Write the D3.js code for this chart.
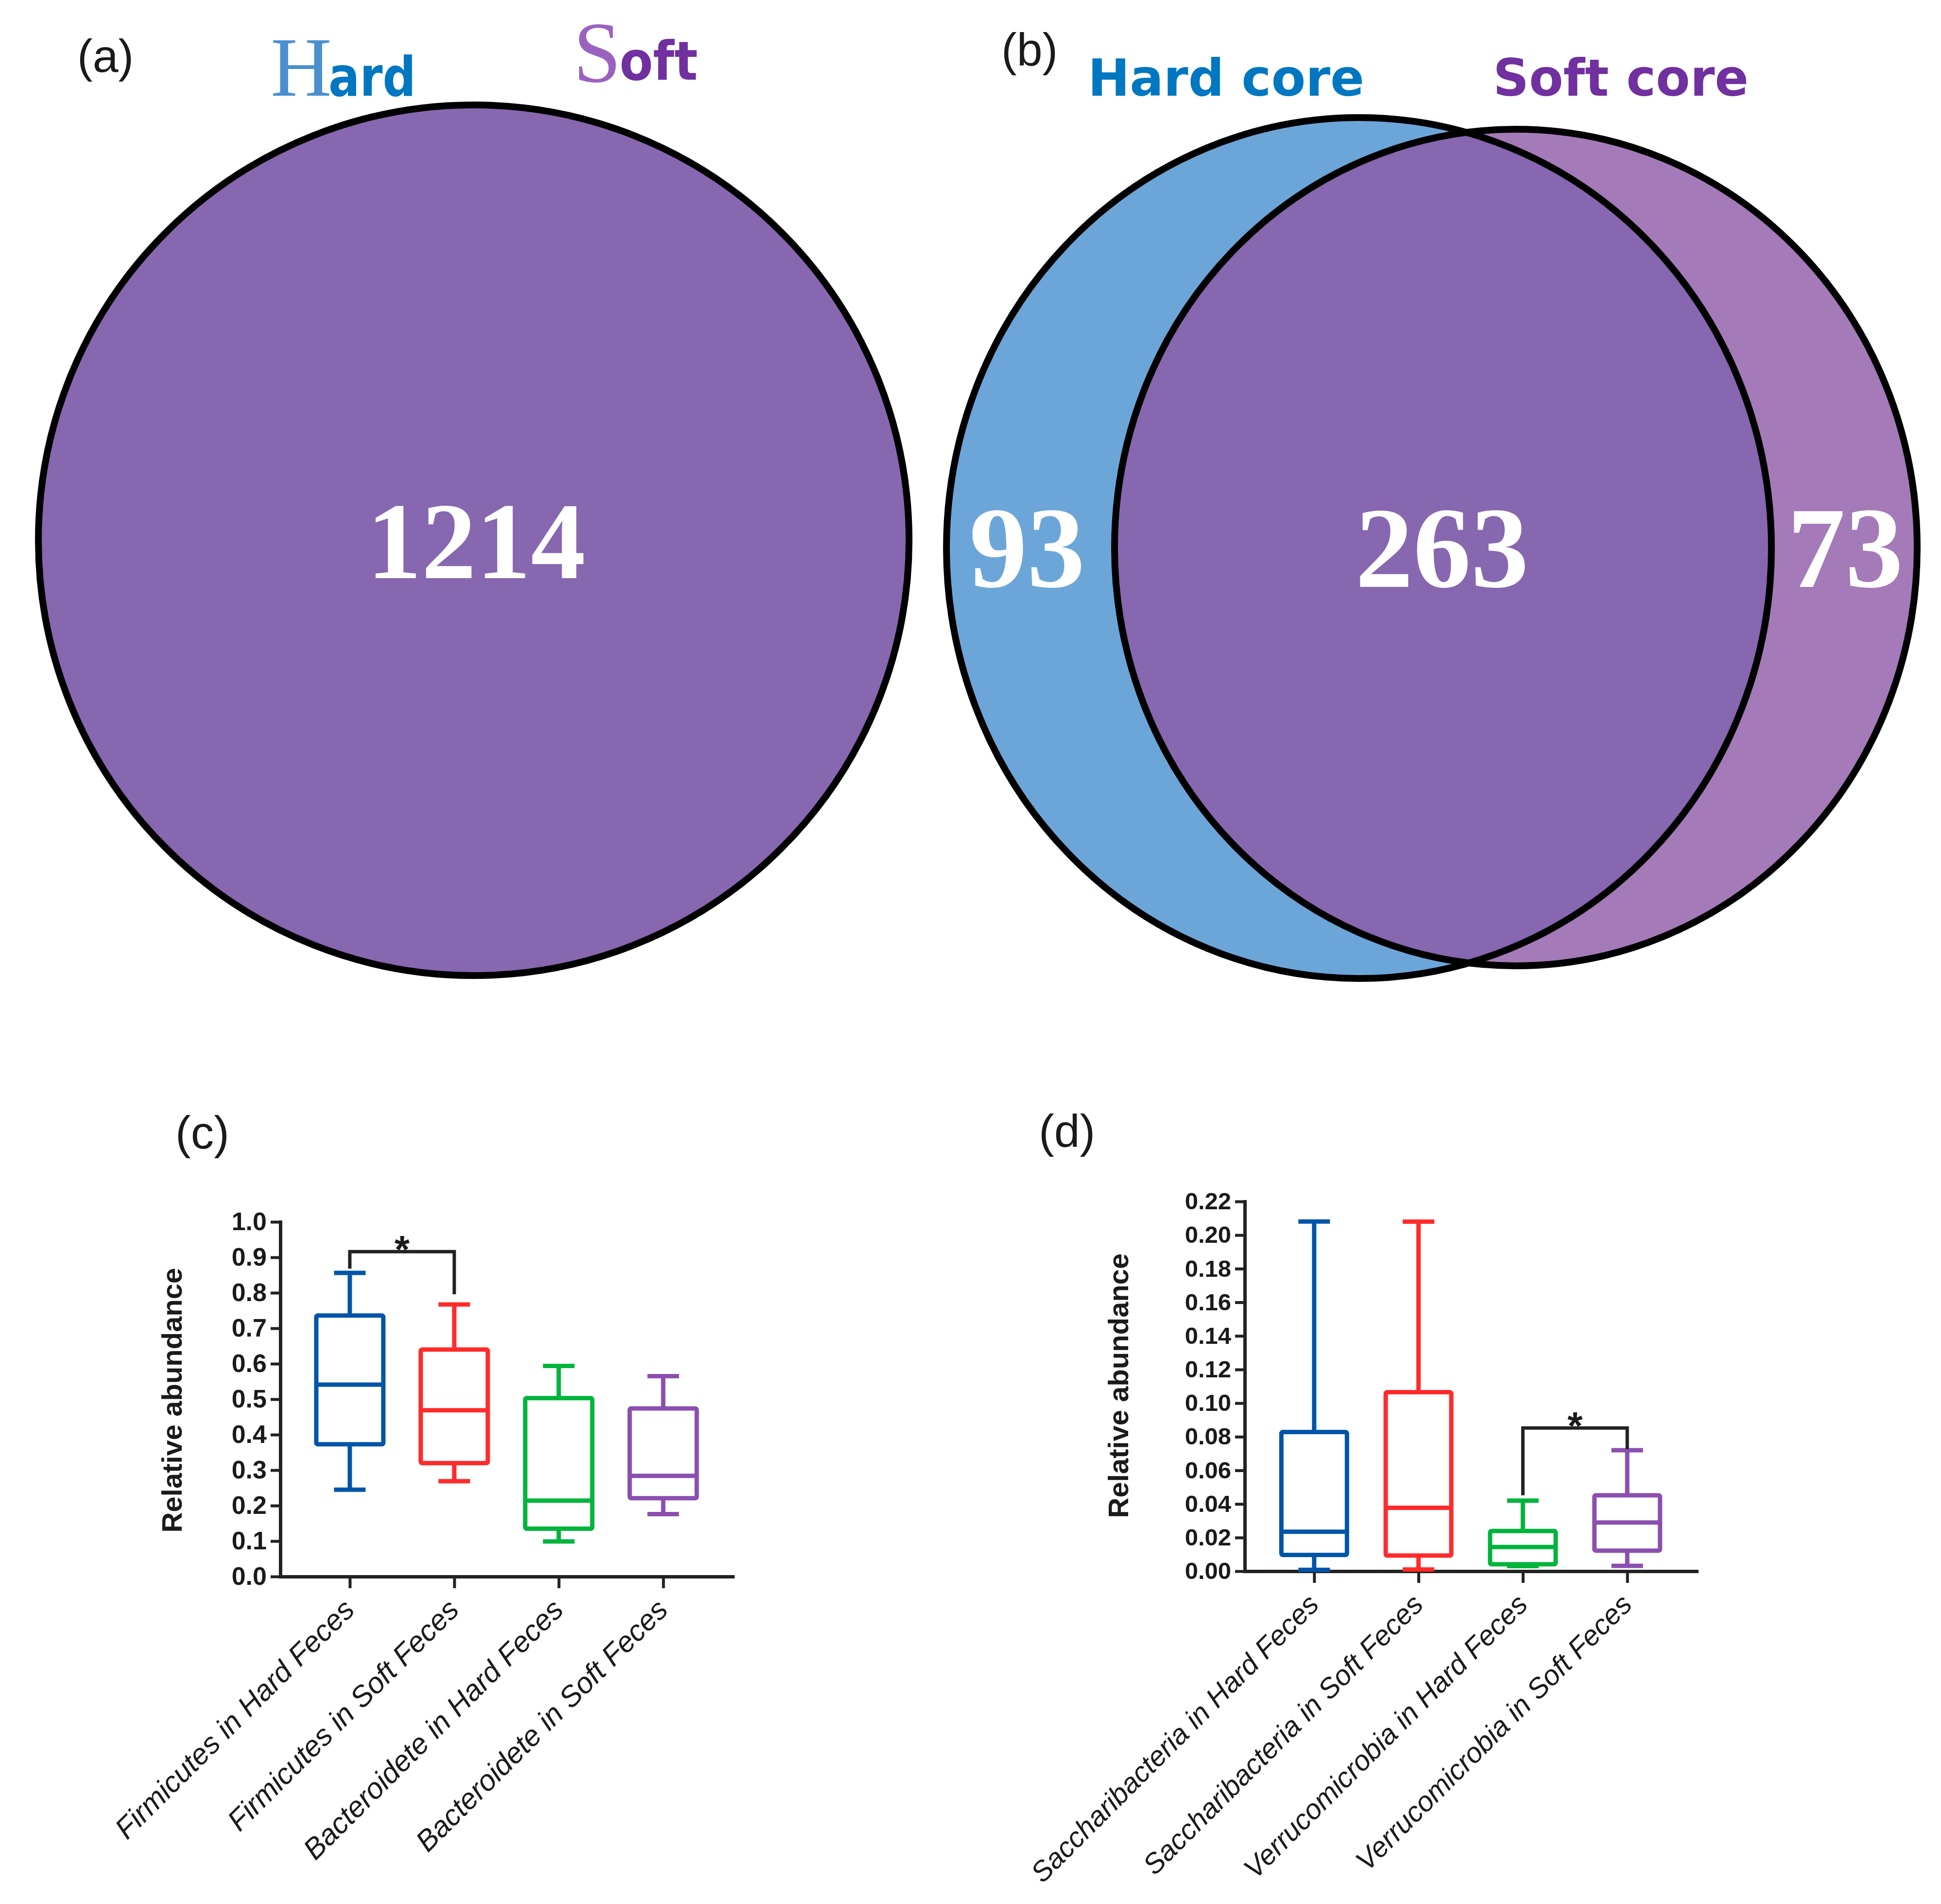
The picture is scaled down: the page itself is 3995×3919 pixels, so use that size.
<!DOCTYPE html>
<html><head><meta charset="utf-8">
<script src="https://cdn.jsdelivr.net/npm/d3@7"></script>
<style>body{margin:0;background:#fff}svg{display:block}</style>
</head><body>
<script>
// ---------------- DATA ----------------
const vennASets = ["Hard", "Soft"];
const vennACounts = [1214];                 // shared (all)
const vennBSets = ["Hard core", "Soft core"];
const vennBCounts = [93, 263, 73];          // hard only, shared, soft only

const catsC = ["Firmicutes in Hard Feces", "Firmicutes in Soft Feces",
               "Bacteroidete in Hard Feces", "Bacteroidete in Soft Feces"];
// [min, q1, median, q3, max]
const boxC = [[0.245, 0.373, 0.541, 0.736, 0.856],
              [0.269, 0.320, 0.469, 0.640, 0.767],
              [0.099, 0.135, 0.214, 0.503, 0.594],
              [0.176, 0.221, 0.284, 0.474, 0.565]];
const ticksC = [0.0, 0.1, 0.2, 0.3, 0.4, 0.5, 0.6, 0.7, 0.8, 0.9, 1.0];
// [from index, to index, bar level, left leg end, right leg end]
const sigC = [0, 1, 0.916, 0.868, 0.796];

const catsD = ["Saccharibacteria in Hard Feces", "Saccharibacteria in Soft Feces",
               "Verrucomicrobia in Hard Feces", "Verrucomicrobia in Soft Feces"];
const boxD = [[0.0008, 0.0097, 0.0235, 0.0828, 0.2081],
              [0.0010, 0.0093, 0.0377, 0.1065, 0.2080],
              [0.0030, 0.0041, 0.0144, 0.0239, 0.0420],
              [0.0032, 0.0122, 0.0290, 0.0452, 0.0720]];
const ticksD = [0.00, 0.02, 0.04, 0.06, 0.08, 0.10, 0.12, 0.14, 0.16, 0.18, 0.20, 0.22];
const sigD = [2, 3, 0.0852, 0.0452, 0.0726];

const boxColors = ["#0055A8", "#FF2B2B", "#00B43C", "#8B4FB0"];

// ---------------- SETUP ----------------
const W = 3995, H = 3919;
const svg = d3.select("body").append("svg").attr("width", W).attr("height", H)
  .attr("viewBox", `0 0 ${W} ${H}`);
svg.append("rect").attr("width", W).attr("height", H).attr("fill", "#fff");

const SANS = "'Liberation Sans', Arial, sans-serif";
const SERIF = "'Liberation Serif', 'Times New Roman', serif";
const WIDE = "'DejaVu Sans', Verdana, sans-serif";

function panelLabel(t, x, y) {
  svg.append("text").attr("x", x).attr("y", y).text(t)
    .attr("font-family", SANS).attr("font-size", 95).attr("fill", "#1a1a1a");
}

// ---------------- PANEL A ----------------
panelLabel("(a)", 159, 148);
svg.append("text").attr("x", 557).attr("y", 197).text(vennASets[0][0])
  .attr("font-family", SERIF).attr("font-size", 174).attr("fill", "#4A90D0");
svg.append("text").attr("x", 676).attr("y", 197).text(vennASets[0].slice(1))
  .attr("font-family", WIDE).attr("font-weight", "bold").attr("font-size", 112)
  .attr("textLength", 180).attr("lengthAdjust", "spacingAndGlyphs").attr("fill", "#0077C0");
svg.append("text").attr("x", 1180).attr("y", 168).text(vennASets[1][0])
  .attr("font-family", SERIF).attr("font-size", 177).attr("fill", "#9A62C0");
svg.append("text").attr("x", 1275).attr("y", 164).text(vennASets[1].slice(1))
  .attr("font-family", WIDE).attr("font-weight", "bold").attr("font-size", 110)
  .attr("textLength", 161).attr("lengthAdjust", "spacingAndGlyphs").attr("fill", "#7030A0");

svg.append("circle").attr("cx", 975).attr("cy", 1112).attr("r", 896)
  .attr("fill", "#8767B0").attr("stroke", "#000").attr("stroke-width", 14);
svg.append("text").attr("x", 980).attr("y", 1190).attr("text-anchor", "middle")
  .text(vennACounts[0]).attr("font-family", SERIF).attr("font-weight", "bold")
  .attr("font-size", 225).attr("fill", "#fff");

// ---------------- PANEL B ----------------
panelLabel("(b)", 2061, 135);
svg.append("text").attr("x", 2239).attr("y", 197).text(vennBSets[0])
  .attr("font-family", WIDE).attr("font-weight", "bold").attr("font-size", 106)
  .attr("textLength", 569).attr("lengthAdjust", "spacingAndGlyphs").attr("fill", "#0077C0");
svg.append("text").attr("x", 3073).attr("y", 197).text(vennBSets[1])
  .attr("font-family", WIDE).attr("font-weight", "bold").attr("font-size", 106)
  .attr("textLength", 526).attr("lengthAdjust", "spacingAndGlyphs").attr("fill", "#7030A0");

const eHard = {cx: 2797, cy: 1128, rx: 849, ry: 886};
const eSoft = {cx: 3120, cy: 1127, rx: 826, ry: 861};
const defs = svg.append("defs");
defs.append("clipPath").attr("id", "clipHard").append("ellipse")
  .attr("cx", eHard.cx).attr("cy", eHard.cy).attr("rx", eHard.rx).attr("ry", eHard.ry);
function ell(e) {
  return svg.append("ellipse").attr("cx", e.cx).attr("cy", e.cy).attr("rx", e.rx).attr("ry", e.ry);
}
ell(eHard).attr("fill", "#6CA6D9");
ell(eSoft).attr("fill", "#A47AB8");
ell(eSoft).attr("fill", "#8767B0").attr("clip-path", "url(#clipHard)");
ell(eHard).attr("fill", "none").attr("stroke", "#000").attr("stroke-width", 14);
ell(eSoft).attr("fill", "none").attr("stroke", "#000").attr("stroke-width", 14);
const bTextX = [2114, 2968, 3798];
vennBCounts.forEach((c, i) => {
  svg.append("text").attr("x", bTextX[i]).attr("y", 1208).attr("text-anchor", "middle")
    .text(c).attr("font-family", SERIF).attr("font-weight", "bold")
    .attr("font-size", 238).attr("fill", "#fff");
});

// ---------------- BOX PANELS ----------------
function boxPanel(opt) {
  const {cats, boxes, ticks, sig, x0, x1, y0, y1, fmt, tickFont, label, labelX, labelY, boxW, catFont} = opt;
  const y = d3.scaleLinear().domain([ticks[0], ticks[ticks.length - 1]]).range([y0, y1]);
  const x = d3.scalePoint().domain(cats).range([x0, x1]).padding(0.665);
  const g = svg.append("g");

  const ya = g.append("g").attr("transform", `translate(${x0},0)`)
    .call(d3.axisLeft(y).tickValues(ticks).tickFormat(d3.format(fmt))
      .tickSize(20).tickSizeOuter(0).tickPadding(8));
  ya.select(".domain").attr("stroke", "#222").attr("stroke-width", 7).attr("stroke-linecap", "square");
  ya.selectAll(".tick line").attr("stroke", "#222").attr("stroke-width", 6);
  ya.selectAll(".tick text").attr("font-family", SANS).attr("font-weight", "bold")
    .attr("font-size", tickFont).attr("fill", "#1a1a1a");

  const xa = g.append("g").attr("transform", `translate(0,${y0})`)
    .call(d3.axisBottom(x).tickSize(24).tickSizeOuter(0).tickFormat(""));
  xa.select(".domain").attr("stroke", "#222").attr("stroke-width", 7).attr("stroke-linecap", "square");
  xa.selectAll(".tick line").attr("stroke", "#222").attr("stroke-width", 6);

  cats.forEach(c => {
    const ax = x(c) + 13, ay = y0 + 72;
    g.append("text").attr("transform", `translate(${ax},${ay}) rotate(-45)`)
      .attr("text-anchor", "end").text(c)
      .attr("font-family", SANS).attr("font-style", "italic").attr("font-size", catFont).attr("fill", "#1a1a1a");
  });

  g.append("text").attr("transform", `translate(${labelX},${labelY}) rotate(-90)`)
    .attr("text-anchor", "middle").text(label)
    .attr("font-family", SANS).attr("font-weight", "bold").attr("font-size", 58).attr("fill", "#1a1a1a");

  const capW = 65;
  boxes.forEach((b, i) => {
    const cx = x(cats[i]);
    const col = boxColors[i];
    const bg = g.append("g").attr("stroke", col).attr("stroke-width", 9).attr("fill", "none");
    bg.append("line").attr("x1", cx).attr("x2", cx).attr("y1", y(b[0])).attr("y2", y(b[1]));
    bg.append("line").attr("x1", cx).attr("x2", cx).attr("y1", y(b[3])).attr("y2", y(b[4]));
    bg.append("line").attr("x1", cx - capW / 2).attr("x2", cx + capW / 2).attr("y1", y(b[0])).attr("y2", y(b[0]));
    bg.append("line").attr("x1", cx - capW / 2).attr("x2", cx + capW / 2).attr("y1", y(b[4])).attr("y2", y(b[4]));
    bg.append("rect").attr("x", cx - boxW / 2).attr("width", boxW)
      .attr("y", y(b[3])).attr("height", y(b[1]) - y(b[3])).attr("rx", 3);
    bg.append("line").attr("x1", cx - boxW / 2).attr("x2", cx + boxW / 2).attr("y1", y(b[2])).attr("y2", y(b[2]));
  });

  const xa0 = x(cats[sig[0]]), xa1 = x(cats[sig[1]]);
  g.append("path")
    .attr("d", `M${xa0},${y(sig[3])}V${y(sig[2])}H${xa1}V${y(sig[4])}`)
    .attr("fill", "none").attr("stroke", "#222").attr("stroke-width", 7);
  g.append("text").attr("x", (xa0 + xa1) / 2).attr("y", y(sig[2]) + 23)
    .attr("text-anchor", "middle").text("*")
    .attr("font-family", SANS).attr("font-weight", "bold").attr("font-size", 80).attr("fill", "#1a1a1a");
}

panelLabel("(c)", 361, 2364);
boxPanel({cats: catsC, boxes: boxC, ticks: ticksC, sig: sigC,
  x0: 577, x1: 1508, y0: 3245, y1: 2515, fmt: ".1f", tickFont: 52,
  label: "Relative abundance", labelX: 374, labelY: 2882, boxW: 138, catFont: 60});

panelLabel("(d)", 2138, 2361);
boxPanel({cats: catsD, boxes: boxD, ticks: ticksD, sig: sigD,
  x0: 2562, x1: 3492, y0: 3234, y1: 2473, fmt: ".2f", tickFont: 49,
  label: "Relative abundance", labelX: 2322, labelY: 2852, boxW: 135, catFont: 58});
</script>
</body></html>
